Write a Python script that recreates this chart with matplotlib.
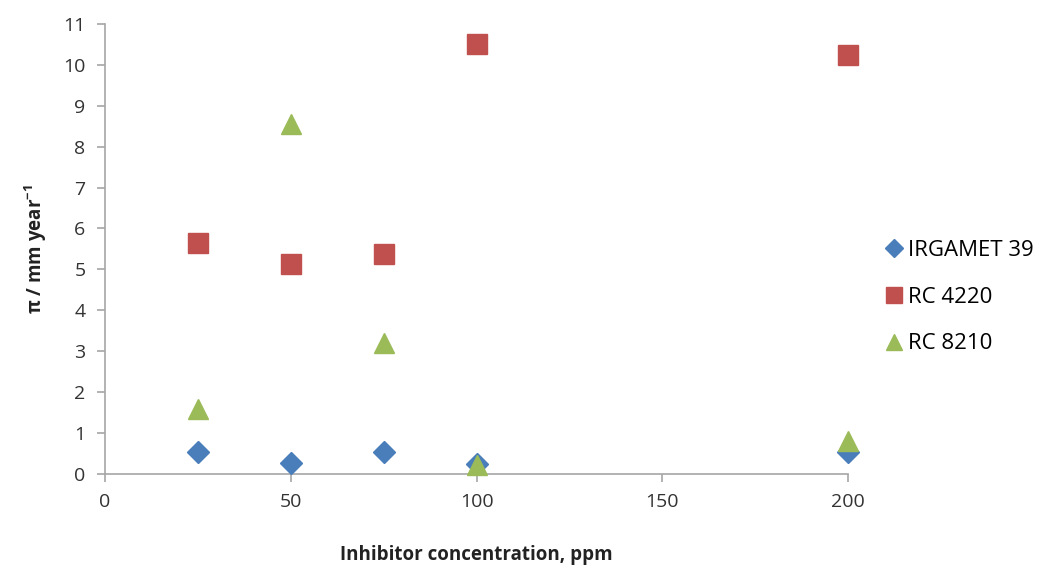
import matplotlib
matplotlib.use("Agg")
from matplotlib import pyplot as plt

plt.rcParams['font.family'] = ['Open Sans', 'DejaVu Sans']
plt.rcParams['mathtext.fontset'] = 'custom'
plt.rcParams['mathtext.rm'] = 'Open Sans'
plt.rcParams['mathtext.bf'] = 'Open Sans:bold'

conc = [25, 50, 75, 100, 200]
irgamet = [0.53, 0.27, 0.53, 0.25, 0.55]
rc4220 = [5.65, 5.13, 5.38, 10.5, 10.25]
rc8210 = [1.6, 8.55, 3.2, 0.23, 0.8]
labels = ['IRGAMET 39', 'RC 4220', 'RC 8210']

fig = plt.figure(figsize=(10.45, 5.67), dpi=100)
ax = fig.add_axes([0.1005, 0.164, 0.711, 0.794])

ax.plot(conc, irgamet, linestyle='none', marker='D', markersize=11, color='#4a7ebb',
        label=labels[0], clip_on=False, zorder=3)
ax.plot(conc, rc4220, linestyle='none', marker='s', markersize=15, color='#c0504d',
        label=labels[1], clip_on=False, zorder=3)
ax.plot(conc, rc8210, linestyle='none', marker='^', markersize=15, color='#9bbb59',
        label=labels[2], clip_on=False, zorder=4)

ax.set_xlim(0, 200)
ax.set_ylim(0, 11)
ax.set_xticks([0, 50, 100, 150, 200])
ax.set_yticks(range(0, 12))

for s in ['top', 'right']:
    ax.spines[s].set_visible(False)
for s in ['left', 'bottom']:
    ax.spines[s].set_color('#a6a6a6')
    ax.spines[s].set_linewidth(1.2)
ax.tick_params(colors='#a6a6a6', labelcolor='#333333', labelsize=14, length=6, width=1.2)
ax.tick_params(axis='x', pad=8)
ax.tick_params(axis='y', pad=8)

ax.set_xlabel('Inhibitor concentration, ppm', fontsize=13.5, fontweight='bold', color='#222222', labelpad=24)
ax.set_ylabel('π / mm year$^{\\mathbf{-1}}$', fontsize=13.5, fontweight='bold', color='#222222', labelpad=10)

ax.legend(loc='upper left', bbox_to_anchor=(0.837, 0.592), bbox_transform=fig.transFigure,
          frameon=False, fontsize=16, labelspacing=1.15, handletextpad=0.2, handlelength=0.9,
          markerscale=0.8, borderaxespad=0)

fig.savefig('out.png', dpi=100)
